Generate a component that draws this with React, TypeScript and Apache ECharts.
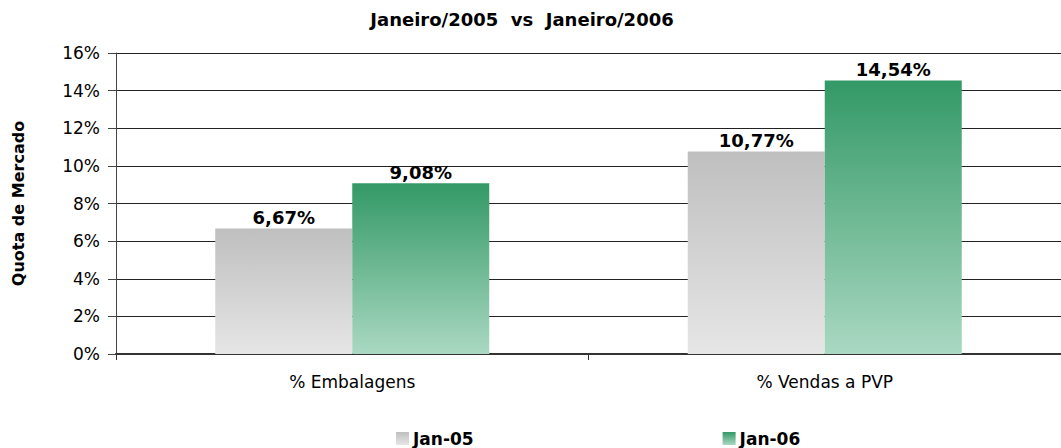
import React, { useEffect, useRef } from "react";
import * as echarts from "echarts";

const categories = ["% Embalagens", "% Vendas a PVP"];
const seriesNames = ["Jan-05", "Jan-06"];
const jan05 = [6.67, 10.77];
const jan06 = [9.08, 14.54];
const yTicks = { min: 0, max: 16, interval: 2 };
const titleText = "Janeiro/2005  vs  Janeiro/2006";
const yAxisName = "Quota de Mercado";

const FONT = "DejaVu Sans";

const grayGrad = new echarts.graphic.LinearGradient(0, 0, 0, 1, [
  { offset: 0, color: "#bfbfbf" },
  { offset: 1, color: "#e6e6e6" },
]);
const greenGrad = new echarts.graphic.LinearGradient(0, 0, 0, 1, [
  { offset: 0, color: "#339966" },
  { offset: 1, color: "#aad8c2" },
]);

export default function App() {
  const ref = useRef<HTMLDivElement>(null);
  useEffect(() => {
    if (!ref.current) return;
    const chart = echarts.init(ref.current, undefined, { renderer: "svg" });
    const label = {
      show: true,
      position: "top",
      distance: 2,
      fontFamily: FONT,
      fontWeight: "bold",
      fontSize: 18,
      color: "#000",
      formatter: (p: any) => p.value.toFixed(2).replace(".", ",") + "%",
    };
    chart.setOption({
      animation: false,
      backgroundColor: "#fff",
      title: {
        text: titleText,
        left: 522,
        top: 10,
        padding: 0,
        textAlign: "center",
        textStyle: { fontFamily: FONT, fontWeight: "bold", fontSize: 18, color: "#000" },
      },
      legend: {
        left: 396,
        top: 430,
        padding: 0,
        itemWidth: 13,
        itemHeight: 13,
        itemGap: 249,
        icon: "rect",
        textStyle: { fontFamily: FONT, fontWeight: "bold", fontSize: 17, color: "#000", padding: [0, 0, 0, -1] },
        data: seriesNames,
      },
      grid: { left: 116, width: 958, top: 53, height: 301, containLabel: false },
      xAxis: {
        type: "category",
        data: categories,
        axisLine: { lineStyle: { color: "#333", width: 2 } },
        axisTick: { show: true, length: 6, lineStyle: { color: "#333" } },
        axisLabel: { fontFamily: FONT, fontSize: 17, color: "#000", margin: 19 },
      },
      yAxis: {
        type: "value",
        min: yTicks.min,
        max: yTicks.max,
        interval: yTicks.interval,
        name: yAxisName,
        nameLocation: "middle",
        nameGap: 90,
        nameTextStyle: { fontFamily: FONT, fontWeight: "bold", fontSize: 16, color: "#000" },
        axisLine: { show: true, lineStyle: { color: "#444", width: 1 } },
        axisTick: { show: true, length: 8, lineStyle: { color: "#444" } },
        axisLabel: {
          fontFamily: FONT,
          fontSize: 17,
          color: "#000",
          margin: 16,
          formatter: (v: number) => v + "%",
        },
        splitLine: { show: true, lineStyle: { color: "#222", width: 1 } },
      },
      series: [
        {
          name: seriesNames[0],
          type: "bar",
          data: jan05,
          barWidth: 137,
          barGap: "0%",
          itemStyle: { color: grayGrad },
          label,
        },
        {
          name: seriesNames[1],
          type: "bar",
          data: jan06,
          barWidth: 137,
          itemStyle: { color: greenGrad },
          label,
        },
      ],
    });
    return () => chart.dispose();
  }, []);
  return (
    <div
      ref={ref}
      style={{ position: "fixed", left: 0, top: 0, width: 1061, height: 448 }}
    />
  );
}
